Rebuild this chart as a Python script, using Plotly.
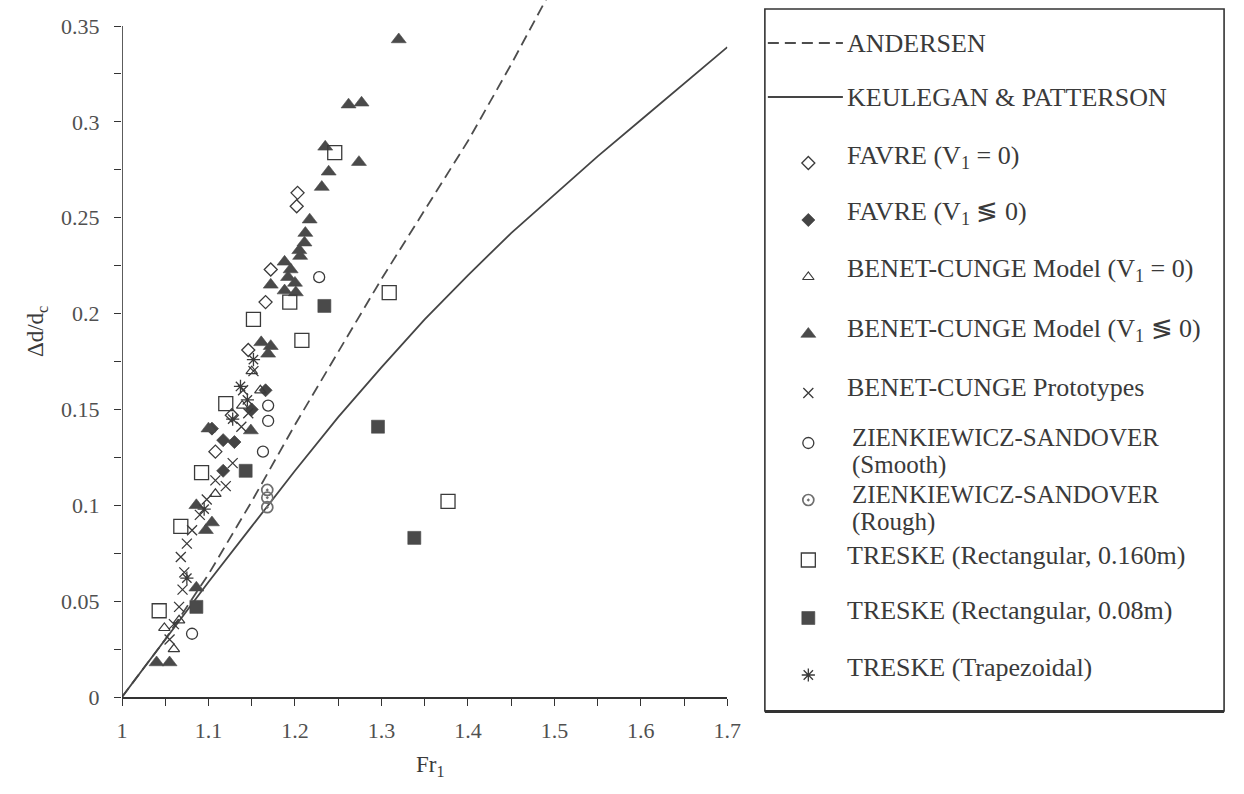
import plotly.graph_objects as go

# ---------------- theoretical curves: Fr1 vs Δd/dc ----------------
andersen_fr = [1.00, 1.05, 1.10, 1.15, 1.20, 1.25, 1.30, 1.35, 1.40, 1.45, 1.50]
andersen_dd = [0.000, 0.030, 0.064, 0.102, 0.142, 0.180, 0.218, 0.254, 0.290, 0.330, 0.372]

keulegan_fr = [1.00, 1.05, 1.10, 1.15, 1.20, 1.25, 1.30, 1.35, 1.40, 1.45, 1.50, 1.55, 1.60, 1.65, 1.70]
keulegan_dd = [0.000, 0.030, 0.060, 0.089, 0.118, 0.146, 0.172, 0.197, 0.220, 0.242, 0.262, 0.282, 0.301, 0.320, 0.339]

# ---------------- measurements ----------------
favre0_fr = [1.203, 1.202, 1.172, 1.166, 1.146, 1.127, 1.108]
favre0_dd = [0.263, 0.256, 0.223, 0.206, 0.181, 0.147, 0.128]

favre1_fr = [1.166, 1.104, 1.117, 1.130, 1.117, 1.150]
favre1_dd = [0.160, 0.140, 0.134, 0.133, 0.118, 0.150]

benet_model0_fr = [1.049, 1.066, 1.060, 1.108, 1.139, 1.150, 1.160]
benet_model0_dd = [0.036, 0.040, 0.025, 0.106, 0.152, 0.170, 0.160]

benet_model1_fr = [1.320, 1.262, 1.277, 1.235, 1.274, 1.239, 1.231, 1.217, 1.212, 1.211,
                   1.205, 1.206, 1.188, 1.195, 1.192, 1.200, 1.172, 1.188, 1.201, 1.161,
                   1.172, 1.169, 1.149, 1.100, 1.086, 1.104, 1.097, 1.086, 1.040, 1.055]
benet_model1_dd = [0.343, 0.309, 0.310, 0.287, 0.279, 0.274, 0.266, 0.249, 0.242, 0.237,
                   0.233, 0.230, 0.227, 0.223, 0.219, 0.216, 0.215, 0.212, 0.211, 0.185,
                   0.183, 0.179, 0.139, 0.140, 0.100, 0.091, 0.087, 0.057, 0.018, 0.018]

benet_proto_fr = [1.055, 1.060, 1.066, 1.070, 1.072, 1.068, 1.075, 1.081, 1.090, 1.098,
                  1.108, 1.120, 1.128, 1.138, 1.146, 1.152, 1.140]
benet_proto_dd = [0.030, 0.038, 0.047, 0.056, 0.065, 0.073, 0.080, 0.087, 0.095, 0.103,
                  0.113, 0.110, 0.122, 0.141, 0.148, 0.170, 0.160]

zs_smooth_fr = [1.228, 1.169, 1.169, 1.163, 1.081]
zs_smooth_dd = [0.219, 0.152, 0.144, 0.128, 0.033]

zs_rough_fr = [1.168, 1.168, 1.168]
zs_rough_dd = [0.108, 0.104, 0.099]

treske160_fr = [1.246, 1.194, 1.309, 1.152, 1.208, 1.120, 1.092, 1.068, 1.043, 1.377]
treske160_dd = [0.284, 0.206, 0.211, 0.197, 0.186, 0.153, 0.117, 0.089, 0.045, 0.102]

treske08_fr = [1.234, 1.296, 1.338, 1.143, 1.086]
treske08_dd = [0.204, 0.141, 0.083, 0.118, 0.047]

treske_trap_fr = [1.152, 1.137, 1.145, 1.128, 1.075, 1.095]
treske_trap_dd = [0.176, 0.162, 0.155, 0.145, 0.062, 0.098]

x_ticks = [1.0, 1.1, 1.2, 1.3, 1.4, 1.5, 1.6, 1.7]
y_ticks = [0, 0.05, 0.1, 0.15, 0.2, 0.25, 0.3, 0.35]

INK = "#3a3a3a"
SERIF = "Liberation Serif"
TEXT = "#3a3a3a"

# marker styles shared by the plot and the key
styles = {
    "favre0": dict(symbol="diamond-open", size=10, color=INK, line=dict(width=1.3, color=INK)),
    "favre1": dict(symbol="diamond", size=10, color="#444", line=dict(width=0.8, color="#444")),
    "bm0": dict(symbol="triangle-up-open", size=10, color=INK, line=dict(width=1.2, color=INK)),
    "bm1": dict(symbol="triangle-up", size=13, color="#4a4a4a", line=dict(width=0.6, color="#4a4a4a")),
    "bp": dict(symbol="x-thin-open", size=10, color=INK, line=dict(width=1.3, color=INK)),
    "zs": dict(symbol="circle-open", size=11, color=INK, line=dict(width=1.3, color=INK)),
    "zr": dict(symbol="circle-open-dot", size=11, color="#6e6e6e", line=dict(width=1.7, color="#6e6e6e")),
    "t160": dict(symbol="square-open", size=14, color=INK, line=dict(width=1.3, color=INK)),
    "t08": dict(symbol="square", size=13, color="#4a4a4a", line=dict(width=0.6, color="#4a4a4a")),
    "ttr": dict(symbol="asterisk-open", size=11, color=INK, line=dict(width=1.3, color=INK)),
}

fig = go.Figure()

fig.add_trace(go.Scatter(x=andersen_fr, y=andersen_dd, mode="lines",
                         line=dict(color="#4d4d4d", width=1.8, dash="11px,6px"),
                         showlegend=False, hoverinfo="skip"))
fig.add_trace(go.Scatter(x=keulegan_fr, y=keulegan_dd, mode="lines",
                         line=dict(color="#454545", width=1.8),
                         showlegend=False, hoverinfo="skip"))

series = [
    (favre0_fr, favre0_dd, "favre0"),
    (favre1_fr, favre1_dd, "favre1"),
    (benet_model0_fr, benet_model0_dd, "bm0"),
    (benet_model1_fr, benet_model1_dd, "bm1"),
    (benet_proto_fr, benet_proto_dd, "bp"),
    (zs_smooth_fr, zs_smooth_dd, "zs"),
    (zs_rough_fr, zs_rough_dd, "zr"),
    (treske160_fr, treske160_dd, "t160"),
    (treske08_fr, treske08_dd, "t08"),
    (treske_trap_fr, treske_trap_dd, "ttr"),
]
for xs, ys, key in series:
    fig.add_trace(go.Scatter(x=xs, y=ys, mode="markers", marker=styles[key],
                             showlegend=False, cliponaxis=False))

# ---------------- key panel (drawn on its own pixel-scaled axes) ----------------
key_rows = [
    ("line-dash", "ANDERSEN", 43, None),
    ("line-solid", "KEULEGAN &amp; PATTERSON", 97, None),
    ("favre0", "FAVRE (V<sub>1</sub> = 0)", 157, 163),
    ("favre1", "FAVRE (V<sub>1</sub> ≶ 0)", 213, 220),
    ("bm0", "BENET-CUNGE Model (V<sub>1</sub> = 0)", 270, 277),
    ("bm1", "BENET-CUNGE Model (V<sub>1</sub> ≶ 0)", 330, 334),
    ("bp", "BENET-CUNGE Prototypes", 387, 393),
    ("zs", "ZIENKIEWICZ-SANDOVER|(Smooth)", 437, 443),
    ("zr", "ZIENKIEWICZ-SANDOVER|(Rough)", 494, 500),
    ("t160", "TRESKE (Rectangular, 0.160m)", 555, 560),
    ("t08", "TRESKE (Rectangular, 0.08m)", 610, 618),
    ("ttr", "TRESKE (Trapezoidal)", 667, 675),
]

KEY_FONT = dict(family=SERIF, size=26, color=TEXT)
annotations = []
for kind, label, ty, my in key_rows:
    if kind == "line-dash":
        fig.add_trace(go.Scatter(x=[776, 852], y=[ty, ty], mode="lines", xaxis="x2", yaxis="y2",
                                 line=dict(color="#4d4d4d", width=1.8, dash="11px,6px"),
                                 showlegend=False, hoverinfo="skip"))
    elif kind == "line-solid":
        fig.add_trace(go.Scatter(x=[776, 852], y=[ty, ty], mode="lines", xaxis="x2", yaxis="y2",
                                 line=dict(color="#454545", width=1.8),
                                 showlegend=False, hoverinfo="skip"))
    else:
        fig.add_trace(go.Scatter(x=[817], y=[my], mode="markers", xaxis="x2", yaxis="y2",
                                 marker=styles[kind], showlegend=False, hoverinfo="skip"))
    parts = label.split("|")
    if len(parts) == 1:
        annotations.append(dict(x=854, y=ty, xref="x2", yref="y2", text=parts[0],
                                showarrow=False, xanchor="left", yanchor="middle",
                                font=KEY_FONT))
    else:
        # two-line entry: first line sits on the marker row, second line just below it
        for i, part in enumerate(parts):
            annotations.append(dict(x=859, y=ty + 28 * i, xref="x2", yref="y2", text=part,
                                    showarrow=False, xanchor="left", yanchor="middle",
                                    font=dict(family=SERIF, size=25, color=TEXT)))

# axis titles
annotations.append(dict(x=(36 - 122) / 1122, y=(724 - 332) / 724, xref="paper", yref="paper",
                        text="Δd/d<sub>c</sub>", textangle=-90, showarrow=False,
                        xanchor="center", yanchor="middle",
                        font=dict(family=SERIF, size=23, color=TEXT)))
annotations.append(dict(x=(434 - 122) / 1122, y=(724 - 766) / 724, xref="paper", yref="paper",
                        text="Fr<sub>1</sub>", showarrow=False, xanchor="center", yanchor="middle",
                        font=dict(family=SERIF, size=23, color=TEXT)))

shapes = [
    # key frame
    dict(type="rect", xref="x2", yref="y2", x0=773, x1=1238, y0=9, y1=711,
         line=dict(color="#333", width=1.6)),
    dict(type="line", xref="x2", yref="y2", x0=773, x1=1238, y0=711.5, y1=711.5,
         line=dict(color="#333", width=3)),
    # vertical axis line up to the last labelled tick
    dict(type="line", xref="x", yref="y", x0=1.0, x1=1.0, y0=0, y1=0.35,
         line=dict(color="#333", width=1.6)),
]

TICK_FONT = dict(family=SERIF, size=22, color="#505050")

fig.update_layout(
    width=1244, height=794,
    margin=dict(l=122, r=0, t=0, b=70),
    paper_bgcolor="white", plot_bgcolor="white",
    showlegend=False,
    annotations=annotations,
    shapes=shapes,
    xaxis=dict(domain=[0, 613 / 1122], range=[1.0, 1.7], tickvals=x_ticks,
               ticktext=[f"{v:g}" for v in x_ticks],
               showline=True, linecolor="#333", linewidth=1.6,
               ticks="outside", ticklen=7, tickwidth=1.3, tickcolor="#333",
               minor=dict(dtick=0.05, tick0=1.0, ticks="outside", ticklen=7,
                          tickwidth=1.3, tickcolor="#333"),
               showgrid=False, zeroline=False, ticklabelstandoff=6,
               tickfont=TICK_FONT),
    yaxis=dict(domain=[27 / 724, 1], range=[0, 0.3636], tickvals=y_ticks,
               ticktext=[f"{v:g}" for v in y_ticks],
               showline=False,
               ticks="outside", ticklen=7, tickwidth=1.3, tickcolor="#333",
               minor=dict(dtick=0.025, tick0=0, ticks="outside", ticklen=7,
                          tickwidth=1.3, tickcolor="#333"),
               showgrid=False, zeroline=False, ticklabelstandoff=10,
               tickfont=TICK_FONT),
    xaxis2=dict(domain=[648 / 1122, 1119 / 1122], range=[770, 1241], visible=False,
                anchor="y2", fixedrange=True),
    yaxis2=dict(domain=[9 / 724, 718 / 724], range=[715, 6], visible=False,
                anchor="x2", fixedrange=True),
)

fig.write_html("out.html")
